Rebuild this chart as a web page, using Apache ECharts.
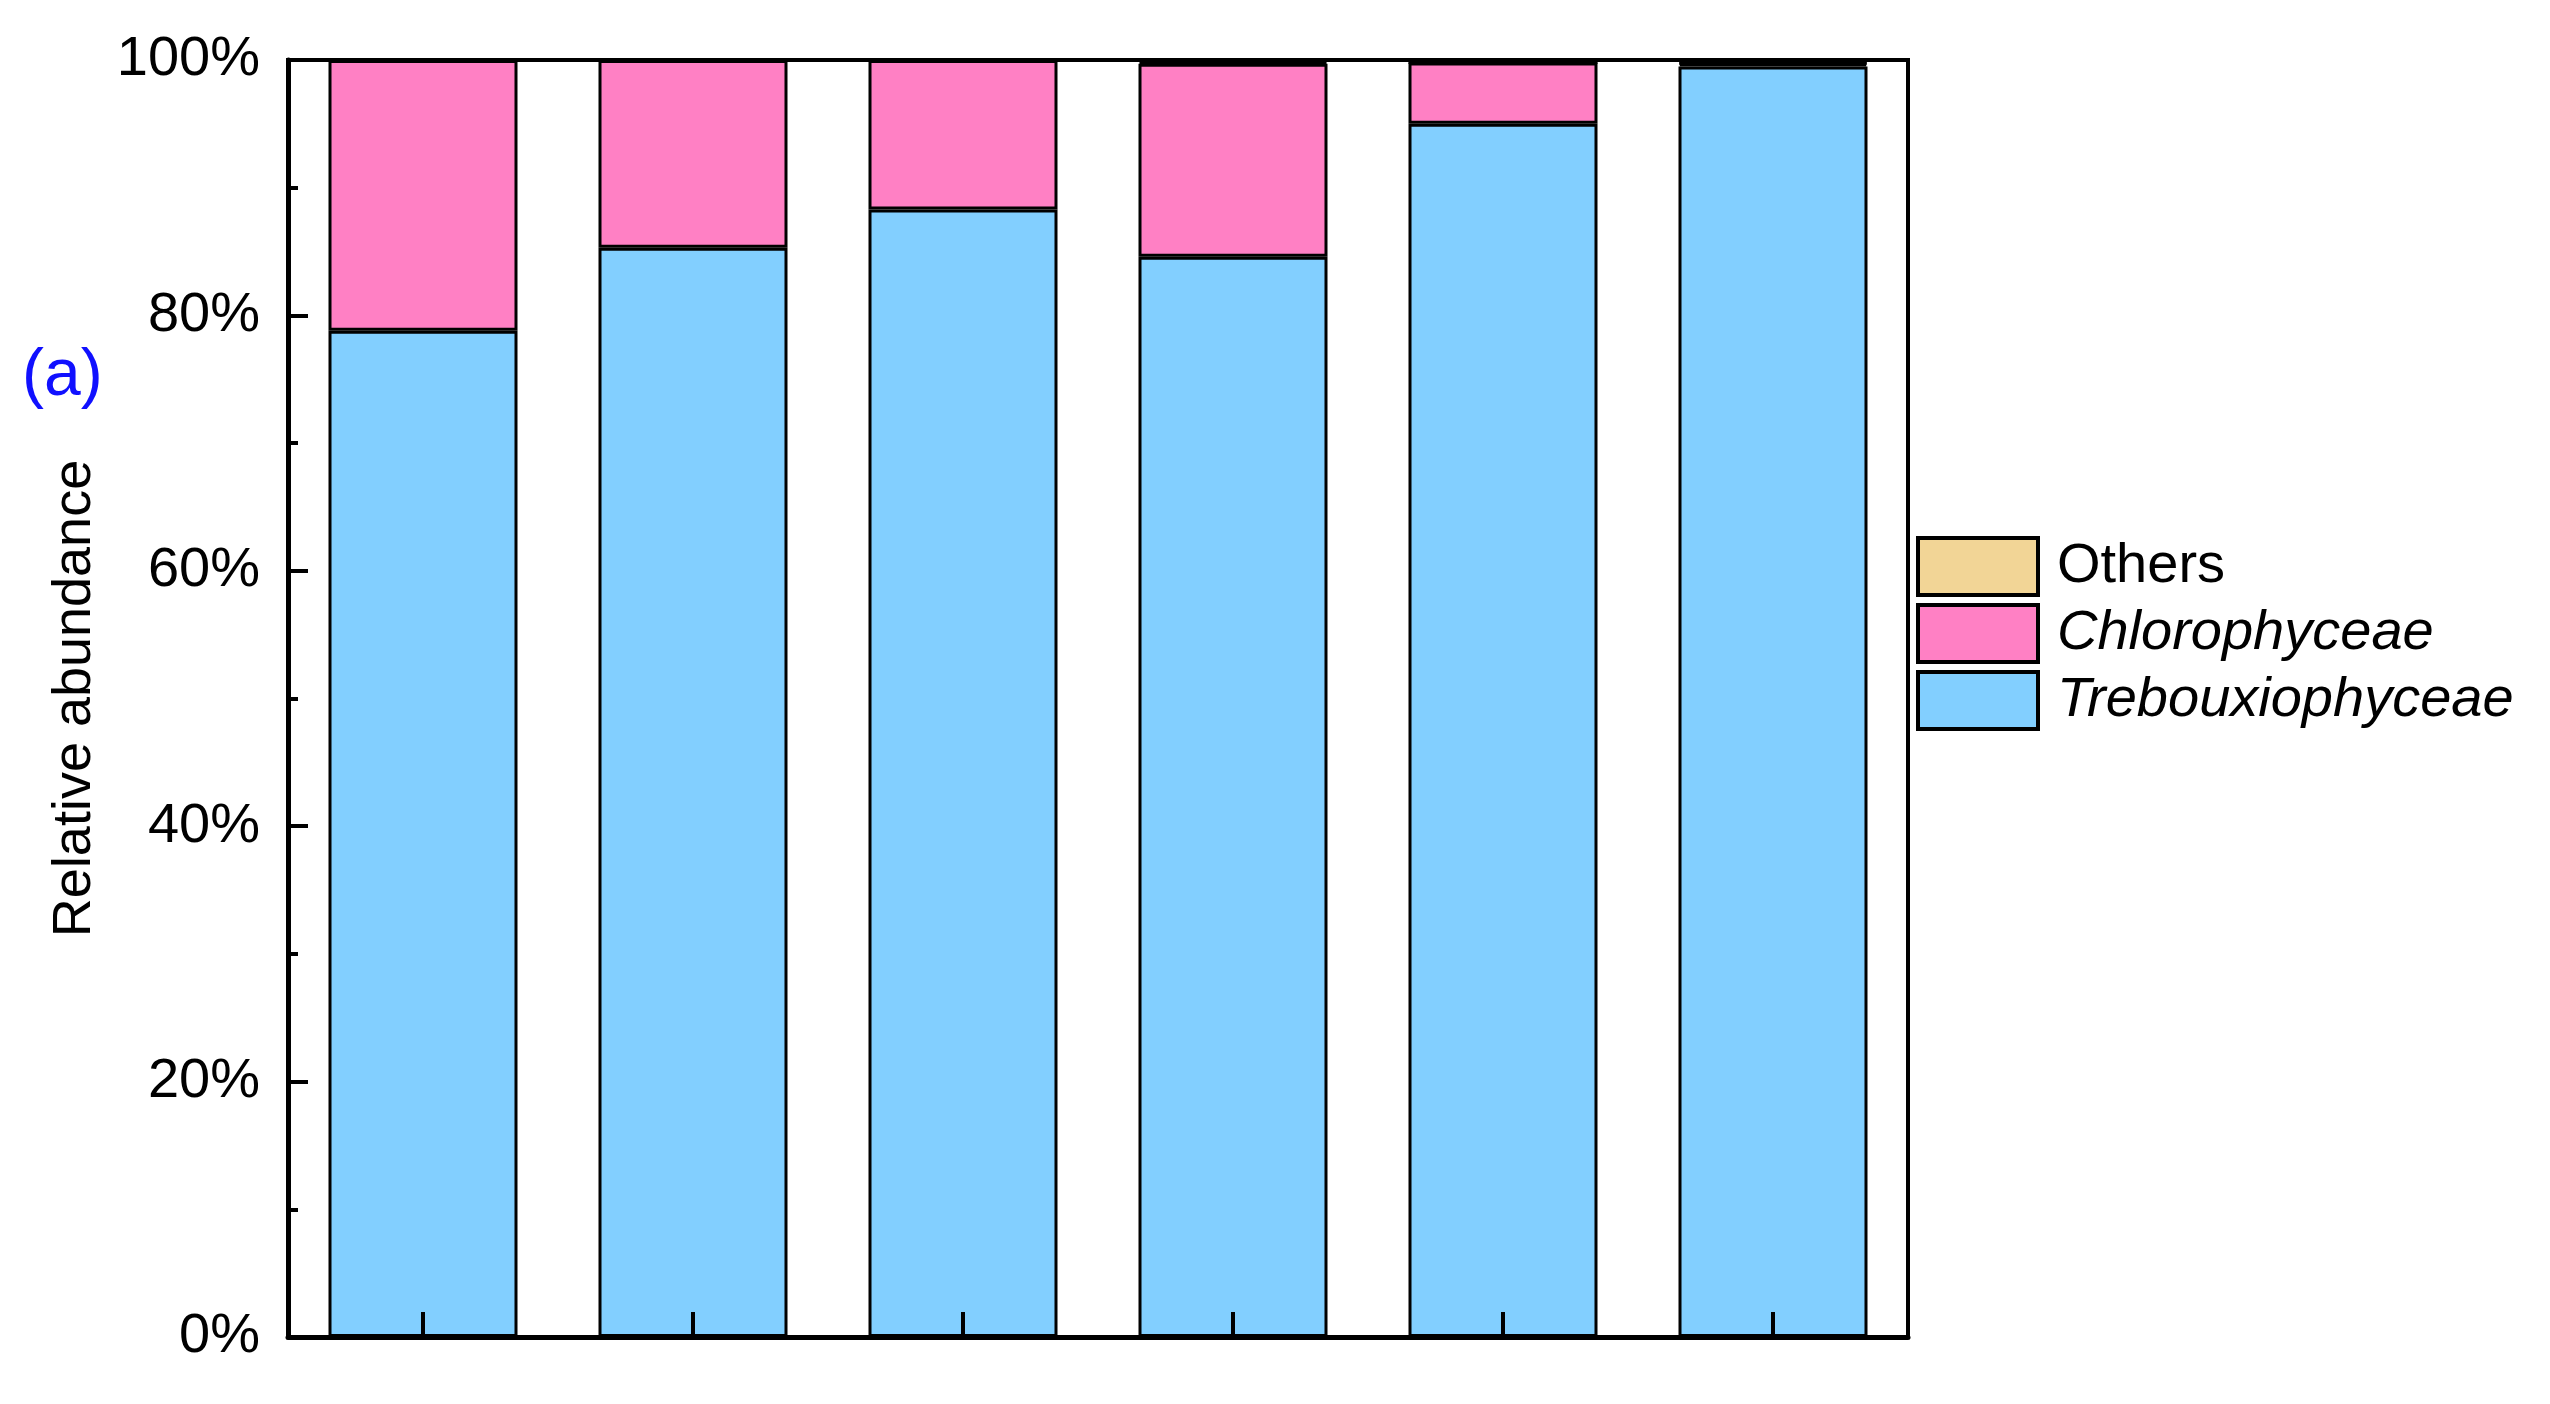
<!DOCTYPE html>
<html>
<head>
<meta charset="utf-8">
<title>Relative abundance</title>
<script src="https://cdn.jsdelivr.net/npm/echarts@6/dist/echarts.min.js"></script>
<style>
  html, body { margin: 0; padding: 0; background: #fff; }
  #chart { width: 2550px; height: 1404px; }
</style>
</head>
<body>
<div id="chart"></div>
<script>
// samples (no labels are printed under the bars)
var samples = ['S1', 'S2', 'S3', 'S4', 'S5', 'S6']
// relative abundance, percent
var trebouxiophyceae = [78.8, 85.3, 88.3, 84.6, 95.0, 99.5]
var chlorophyceae = [21.2, 14.7, 11.7, 15.1, 4.8, 0.2]
var others = [0, 0, 0, 0.15, 0, 0.1]
var yTicks = [0, 20, 40, 60, 80, 100]

var FONT = 'Liberation Sans, Arial, Helvetica, sans-serif'

function barSeries (name, values, color) {
  return {
    name: name,
    type: 'bar',
    stack: 'total',
    barCategoryGap: '30%',
    data: values,
    itemStyle: {
      color: color,
      borderColor: '#000',
      borderWidth: 3
    }
  }
}

var chart = echarts.init(document.getElementById('chart'))
chart.setOption({
  animation: false,
  backgroundColor: '#fff',
  textStyle: { fontFamily: FONT },
  grid: {
    left: 288,
    right: 642,
    top: 60,
    bottom: 67,
    show: true,
    borderColor: '#000',
    borderWidth: 4
  },
  graphic: [
    {
      type: 'text',
      left: 22,
      top: 344,
      style: {
        text: '(a)',
        fill: '#1010ff',
        font: '66px ' + FONT
      }
    }
  ],
  legend: {
    orient: 'vertical',
    left: 1911,
    top: 531,
    itemWidth: 120,
    itemHeight: 57,
    itemGap: 6,
    icon: 'rect',
    itemStyle: { borderColor: '#000', borderWidth: 4 },
    textStyle: {
      fontSize: 56,
      lineHeight: 56,
      color: '#000',
      fontFamily: FONT,
      padding: [0, 0, 0, 14]
    },
    data: [
      { name: 'Others' },
      { name: 'Chlorophyceae', textStyle: { fontStyle: 'italic' } },
      { name: 'Trebouxiophyceae', textStyle: { fontStyle: 'italic' } }
    ]
  },
  xAxis: {
    type: 'category',
    data: samples,
    z: 5,
    axisLine: { lineStyle: { color: '#000', width: 5 } },
    axisTick: {
      show: true,
      inside: true,
      alignWithLabel: true,
      length: 25,
      lineStyle: { color: '#000', width: 4 }
    },
    axisLabel: { show: false },
    splitLine: { show: false }
  },
  yAxis: {
    type: 'value',
    min: yTicks[0],
    max: yTicks[yTicks.length - 1],
    interval: yTicks[1] - yTicks[0],
    z: 5,
    name: 'Relative abundance',
    nameLocation: 'middle',
    nameGap: 186,
    nameTextStyle: { fontSize: 54, color: '#000', fontFamily: FONT },
    axisLine: { show: true, lineStyle: { color: '#000', width: 5 } },
    axisTick: {
      show: true,
      inside: true,
      length: 20,
      lineStyle: { color: '#000', width: 4 }
    },
    minorTick: {
      show: true,
      splitNumber: 2,
      length: 10,
      lineStyle: { color: '#000', width: 4 }
    },
    axisLabel: {
      formatter: '{value}%',
      fontSize: 56,
      color: '#000',
      margin: 28,
      fontFamily: FONT
    },
    splitLine: { show: false }
  },
  series: [
    barSeries('Trebouxiophyceae', trebouxiophyceae, '#82CFFF'),
    barSeries('Chlorophyceae', chlorophyceae, '#FF80C4'),
    barSeries('Others', others, '#F2D596')
  ]
})
</script>
</body>
</html>
